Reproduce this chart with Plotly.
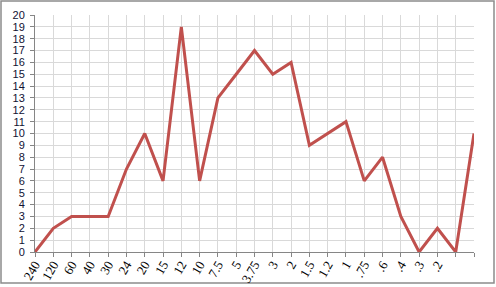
import plotly.graph_objects as go

labels = ["240", "120", "60", "40", "30", "24", "20", "15", "12", "10", "7.5", "5",
          "3.75", "3", "2", "1.5", "1.2", "1", ".75", ".6", ".4", ".3", ".2", "", ""]
values = [0, 2, 3, 3, 3, 7, 10, 6, 19, 6, 13, 15, 17, 15, 16, 9, 10, 11, 6, 8, 3, 0, 2, 0, 10]
y_ticks = list(range(0, 21))

xs = list(range(len(labels)))

fig = go.Figure()
fig.add_trace(go.Scatter(x=xs, y=values, mode="lines",
                         line=dict(color="#C0504D", width=3), hoverinfo="skip"))

W, H = 496, 287
L, R, T, B = 35, 22, 15, 35
pw, ph = W - L - R, H - T - B

fig.update_layout(
    width=W, height=H,
    margin=dict(l=L, r=R, t=T, b=B),
    paper_bgcolor="white", plot_bgcolor="white",
    showlegend=False,
    xaxis=dict(range=[0, len(labels) - 1], tickvals=xs, ticktext=labels,
               tickangle=-60, showgrid=True, gridcolor="#d9d9d9", gridwidth=1,
               showline=True, linecolor="#868686", linewidth=1,
               ticks="outside", ticklen=4, tickcolor="#868686",
               ticklabelstandoff=-5,
               tickfont=dict(family="Liberation Serif", size=13, color="black"),
               zeroline=False, fixedrange=True, automargin=False),
    yaxis=dict(range=[0, 20], tickvals=y_ticks, showgrid=True, gridcolor="#d9d9d9",
               gridwidth=1, showline=True, linecolor="#868686", linewidth=1,
               ticks="outside", ticklen=4, tickcolor="#868686",
               ticklabelstandoff=3,
               tickfont=dict(family="Liberation Sans", size=11, color="#111133"),
               zeroline=False, fixedrange=True, automargin=False),
    shapes=[dict(type="rect", xref="paper", yref="paper",
                 x0=(1 - L) / pw, x1=(494 - L) / pw,
                 y0=(H - B - 283) / ph, y1=(H - B - 1) / ph,
                 line=dict(color="#8c8c8c", width=1.5), layer="below")],
)

fig.write_html("out.html")
